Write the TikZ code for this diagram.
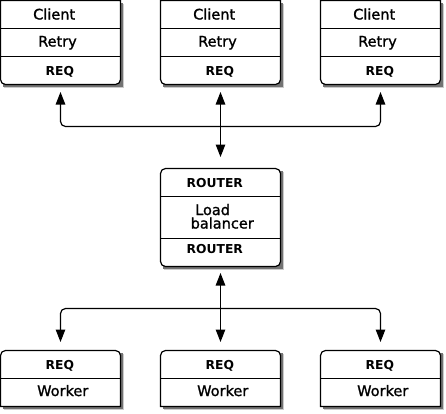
\documentclass[tikz,border=0pt]{standalone}
\usepackage{fontspec}
\setmainfont{DejaVu Sans}
\newfontfamily\labelfont{DejaVu Sans}[FakeBold=1.3]
\newfontfamily\tagfont{DejaVu Sans Bold}
\usetikzlibrary{arrows.meta}
\tikzset{
  frame/.style={draw=none,minimum width=120bp,inner sep=0pt,outer sep=0pt},
  outline/.style={line width=1.2bp,draw=black,fill=white},
  shadowA/.style={fill=black!20},
  shadowB/.style={fill=black!55},
  divider/.style={line width=1.2bp},
  big/.style={font=\labelfont\fontsize{14.5bp}{17bp}\selectfont,anchor=base west,inner sep=0pt},
  small/.style={font=\tagfont\fontsize{12.3bp}{14bp}\selectfont,anchor=base west,inner sep=0pt},
  conn/.style={line width=1.2bp,{Triangle[length=12.5bp,width=9.5bp]}-{Triangle[length=12.5bp,width=9.5bp]},rounded corners=5bp},
}
\newcommand\boxshadow[1]{%
  \fill[shadowA] ([shift={(3.5bp,-3.5bp)}]#1.north west) rectangle ([shift={(3.5bp,-3.5bp)}]#1.south east);
  \fill[shadowB] ([shift={(2.2bp,-2.2bp)}]#1.north west) rectangle ([shift={(2.2bp,-2.2bp)}]#1.south east);}
\newcommand\topbox[1]{%
  \boxshadow{#1}
  \path[outline] (#1.north west) -- (#1.north east) -- ([yshift=5bp]#1.south east)
    arc[start angle=0,end angle=-90,radius=5bp] -- ([xshift=5bp]#1.south west)
    arc[start angle=-90,end angle=-180,radius=5bp] -- cycle;}
\newcommand\workbox[1]{%
  \boxshadow{#1}
  \path[outline] (#1.south west) -- ([yshift=-5bp]#1.north west)
    arc[start angle=180,end angle=90,radius=5bp] -- ([xshift=-5bp]#1.north east)
    arc[start angle=90,end angle=0,radius=5bp] -- (#1.south east) -- cycle;}
\begin{document}
\begin{tikzpicture}[x=1bp,y=-1bp]
\useasboundingbox[fill=white] (0,0) rectangle (446,413);
% frames
\node[frame,minimum height=84bp] (c1) at (60.5,42.5) {};
\node[frame,minimum height=84bp] (c2) at (220.5,42.5) {};
\node[frame,minimum height=84bp] (c3) at (380.5,42.5) {};
\node[frame,minimum height=98bp] (lb) at (220.5,217.5) {};
\node[frame,minimum height=56bp] (w1) at (60.5,378.5) {};
\node[frame,minimum height=56bp] (w2) at (220.5,378.5) {};
\node[frame,minimum height=56bp] (w3) at (380.5,378.5) {};
% box outlines
\topbox{c1}\topbox{c2}\topbox{c3}
\workbox{w1}\workbox{w2}\workbox{w3}
\boxshadow{lb}
\draw[outline,rounded corners=5bp] (lb.north west) rectangle (lb.south east);
% dividers
\foreach \b in {c1,c2,c3}{
  \draw[divider] (\b.west |- 0,28.5) -- (\b.east |- 0,28.5);
  \draw[divider] (\b.west |- 0,56.5) -- (\b.east |- 0,56.5);
}
\draw[divider] (lb.west |- 0,196.5) -- (lb.east |- 0,196.5);
\draw[divider] (lb.west |- 0,238.5) -- (lb.east |- 0,238.5);
\foreach \b in {w1,w2,w3}{
  \draw[divider] (\b.west |- 0,378.5) -- (\b.east |- 0,378.5);
}
% labels
\node[big] (c1a) at (33,19.5) {Client};
\node[big] (c1b) at (38,46.5) {Retry};
\node[small] (c1c) at (45.5,75) {REQ};
\node[big] (c2a) at (193,19.5) {Client};
\node[big] (c2b) at (198,46.5) {Retry};
\node[small] (c2c) at (205.5,75) {REQ};
\node[big] (c3a) at (353,19.5) {Client};
\node[big] (c3b) at (358,46.5) {Retry};
\node[small] (c3c) at (365.5,75) {REQ};
\node[small] (lba) at (186.5,187) {ROUTER};
\node[big] (lbb) at (195,215) {Load};
\node[big] (lbc) at (190.5,228.5) {balancer};
\node[small] (lbd) at (186.5,253.5) {ROUTER};
\node[small] (w1a) at (45.5,369) {REQ};
\node[big] (w1b) at (37,396) {Worker};
\node[small] (w2a) at (205.5,369) {REQ};
\node[big] (w2b) at (197,396) {Worker};
\node[small] (w3a) at (365.5,369) {REQ};
\node[big] (w3b) at (357,396) {Worker};
% connectors
\coordinate (jt) at (220.5,126.5);
\coordinate (jb) at (220.5,308.5);
\draw[conn] ([yshift=-7.5bp]c1.south) |- (jt) -| ([yshift=-7.5bp]c3.south);
\draw[conn] ([yshift=-7.5bp]c2.south) -- ([yshift=11.5bp]lb.north);
\draw[conn] ([yshift=8.5bp]w1.north) |- (jb) -| ([yshift=8.5bp]w3.north);
\draw[conn] ([yshift=-6.5bp]lb.south) -- ([yshift=8.5bp]w2.north);
\end{tikzpicture}
\end{document}
